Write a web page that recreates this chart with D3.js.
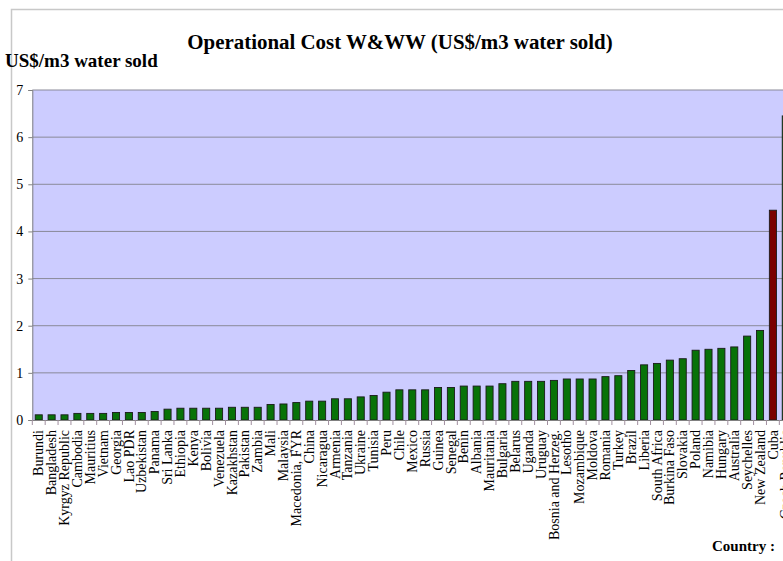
<!DOCTYPE html>
<html>
<head>
<meta charset="utf-8">
<script src="https://cdn.jsdelivr.net/npm/d3@7"></script>
<style>
  html, body { margin: 0; padding: 0; background: #fff; }
  svg { display: block; font-family: "Liberation Serif", "Times New Roman", serif; }
</style>
</head>
<body>
<svg id="chart" width="783" height="561"></svg>
<script>
// Operational cost of water & wastewater utilities, US$ per m3 of water sold
const countries = [
  "Burundi", "Bangladesh", "Kyrgyz Republic", "Cambodia", "Mauritius", "Vietnam",
  "Georgia", "Lao PDR", "Uzbekistan", "Panama", "Sri Lanka", "Ethiopia", "Kenya",
  "Bolivia", "Venezuela", "Kazakhstan", "Pakistan", "Zambia", "Mali", "Malaysia",
  "Macedonia, FYR", "China", "Nicaragua", "Armenia", "Tanzania", "Ukraine", "Tunisia",
  "Peru", "Chile", "Mexico", "Russia", "Guinea", "Senegal", "Benin", "Albania",
  "Mauritania", "Bulgaria", "Belarus", "Uganda", "Uruguay", "Bosnia and Herzeg.",
  "Lesotho", "Mozambique", "Moldova", "Romania", "Turkey", "Brazil", "Liberia",
  "South Africa", "Burkina Faso", "Slovakia", "Poland", "Namibia", "Hungary",
  "Australia", "Seychelles", "New Zealand", "Cuba", "Czech Republic"
];
const opCost = [
  0.11, 0.11, 0.11, 0.14, 0.14, 0.14,
  0.16, 0.16, 0.16, 0.18, 0.23, 0.25, 0.25,
  0.25, 0.25, 0.27, 0.27, 0.27, 0.33, 0.34,
  0.37, 0.40, 0.40, 0.45, 0.45, 0.49, 0.52,
  0.59, 0.64, 0.64, 0.64, 0.69, 0.69, 0.72, 0.72,
  0.72, 0.77, 0.82, 0.82, 0.82, 0.84,
  0.87, 0.87, 0.87, 0.92, 0.94, 1.05, 1.17,
  1.20, 1.27, 1.30, 1.48, 1.50, 1.52,
  1.55, 1.78, 1.90, 4.45, 6.45
];
const highlighted = ["Cuba"];
const yTicks = [0, 1, 2, 3, 4, 5, 6, 7];

const titleText = "Operational Cost W&WW  (US$/m3 water sold)";
const yTitleText = "US$/m3 water sold";
const xTitleText = "Country :";

const data = countries.map((c, i) => ({ country: c, value: opCost[i] }));

const svg = d3.select("#chart");

const plot = { left: 32.3, top: 90, bottom: 420, step: 12.88 };
const plotRight = plot.left + plot.step * countries.length;

const x = d3.scaleBand()
  .domain(countries)
  .range([plot.left, plotRight])
  .paddingInner(0.45)
  .paddingOuter(0.225);

const y = d3.scaleLinear()
  .domain([0, 7])
  .range([plot.bottom, plot.top]);

// outer chart border
svg.append("rect")
  .attr("x", 11.5).attr("y", 9.5)
  .attr("width", 900).attr("height", 700)
  .attr("fill", "none")
  .attr("stroke", "#c8c8c8")
  .attr("stroke-width", 1.5);

// plot area
svg.append("rect")
  .attr("x", plot.left).attr("y", plot.top)
  .attr("width", plotRight - plot.left + 40)
  .attr("height", plot.bottom - plot.top)
  .attr("fill", "#ccccff");

// horizontal gridlines
svg.append("g")
  .selectAll("line")
  .data(yTicks.filter(t => t > 0))
  .join("line")
  .attr("x1", plot.left).attr("x2", plotRight + 40)
  .attr("y1", d => y(d)).attr("y2", d => y(d))
  .attr("stroke", "#8a8a99")
  .attr("stroke-width", 1);

// bars
svg.append("g")
  .selectAll("rect")
  .data(data)
  .join("rect")
  .attr("x", d => x(d.country))
  .attr("y", d => y(d.value))
  .attr("width", x.bandwidth())
  .attr("height", d => y(0) - y(d.value))
  .attr("fill", d => highlighted.includes(d.country) ? "#7a0000" : "#087208")
  .attr("stroke", "#1a1a1a")
  .attr("stroke-width", 0.9);

// y axis
const yAxis = svg.append("g")
  .attr("transform", `translate(${plot.left},0)`)
  .call(d3.axisLeft(y).tickValues(yTicks).tickSize(4).tickPadding(5).tickFormat(d3.format("d")));
yAxis.select(".domain").attr("stroke", "#808080");
yAxis.selectAll(".tick line").attr("stroke", "#808080");
yAxis.selectAll(".tick text")
  .style("font-size", "14px")
  .style("font-family", "'Liberation Serif', 'Times New Roman', serif")
  .attr("fill", "#000");

// x axis: baseline, tick marks at category boundaries, rotated labels
const xAxis = svg.append("g")
  .attr("transform", `translate(0,${plot.bottom})`)
  .call(d3.axisBottom(x).tickSize(0).tickPadding(10).tickFormat(d => d));
xAxis.select(".domain").attr("stroke", "#808080");
xAxis.selectAll(".tick text")
  .style("font-size", "14px")
  .style("font-family", "'Liberation Serif', 'Times New Roman', serif")
  .attr("fill", "#000")
  .attr("text-anchor", "end")
  .attr("transform", "rotate(-90)")
  .attr("x", -10)
  .attr("y", 0)
  .attr("dy", "0.33em");

const edges = countries.map(c => x(c) - x.step() * x.paddingInner() / 2);
svg.append("g")
  .selectAll("line")
  .data(edges)
  .join("line")
  .attr("x1", d => d).attr("x2", d => d)
  .attr("y1", plot.bottom).attr("y2", plot.bottom + 5)
  .attr("stroke", "#a08f9f")
  .attr("stroke-width", 1);

// titles
svg.append("text")
  .attr("x", 400).attr("y", 49)
  .attr("text-anchor", "middle")
  .style("font-size", "20.9px")
  .attr("font-weight", "bold")
  .text(titleText);

svg.append("text")
  .attr("x", 5).attr("y", 67)
  .style("font-size", "19px")
  .attr("font-weight", "bold")
  .text(yTitleText);

svg.append("text")
  .attr("x", 712).attr("y", 551)
  .style("font-size", "15px")
  .attr("font-weight", "bold")
  .text(xTitleText);
</script>
</body>
</html>
